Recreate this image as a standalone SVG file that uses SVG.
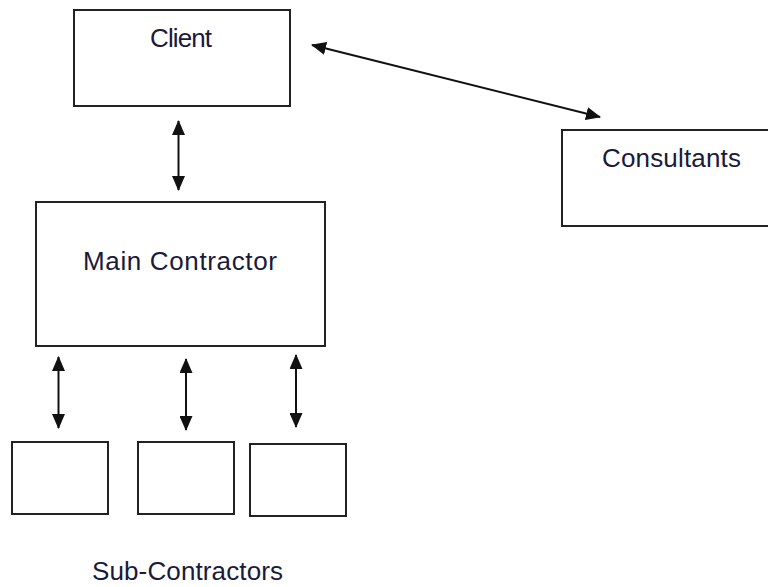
<svg xmlns="http://www.w3.org/2000/svg" width="768" height="587" viewBox="0 0 768 587">
<style>
.box{fill:#fff;stroke:#222;stroke-width:2}
.lbl{font-family:"Liberation Sans",Arial,sans-serif;font-size:26px;fill:#1a1a3a}
.con{stroke:#111;stroke-width:2;fill:none;marker-start:url(#ah);marker-end:url(#ah)}
</style>
<defs>
<marker id="ah" markerUnits="userSpaceOnUse" markerWidth="15" markerHeight="13" refX="14" refY="6.5" orient="auto-start-reverse" viewBox="0 0 15 13">
<path d="M0,0 L15,6.5 L0,13 Z" fill="#111"/>
</marker>
</defs>
<rect width="768" height="587" fill="#fff"/>
<g id="connectors">
<line class="con" x1="178.5" y1="121" x2="178.5" y2="190"/>
<line class="con" x1="312" y1="45" x2="600" y2="117"/>
<line class="con" x1="58.5" y1="357" x2="58.5" y2="428"/>
<line class="con" x1="186" y1="359" x2="186" y2="430"/>
<line class="con" x1="296" y1="355" x2="296" y2="427"/>
</g>
<g id="client">
<rect class="box" x="74" y="10" width="216" height="96"/>
<text class="lbl" x="150" y="47" textLength="62">Client</text>
</g>
<g id="consultants">
<rect class="box" x="562" y="130" width="220" height="96"/>
<text class="lbl" x="602" y="167" textLength="139">Consultants</text>
</g>
<g id="main-contractor">
<rect class="box" x="36" y="202" width="289" height="144"/>
<text class="lbl" x="83" y="270" textLength="194">Main Contractor</text>
</g>
<g id="sub1">
<rect class="box" x="12" y="442" width="96" height="72"/>
</g>
<g id="sub2">
<rect class="box" x="138" y="442" width="96" height="72"/>
</g>
<g id="sub3">
<rect class="box" x="250" y="444" width="96" height="72"/>
</g>
<g id="sub-label">
<text class="lbl" x="92" y="580" textLength="191">Sub-Contractors</text>
</g>
</svg>
